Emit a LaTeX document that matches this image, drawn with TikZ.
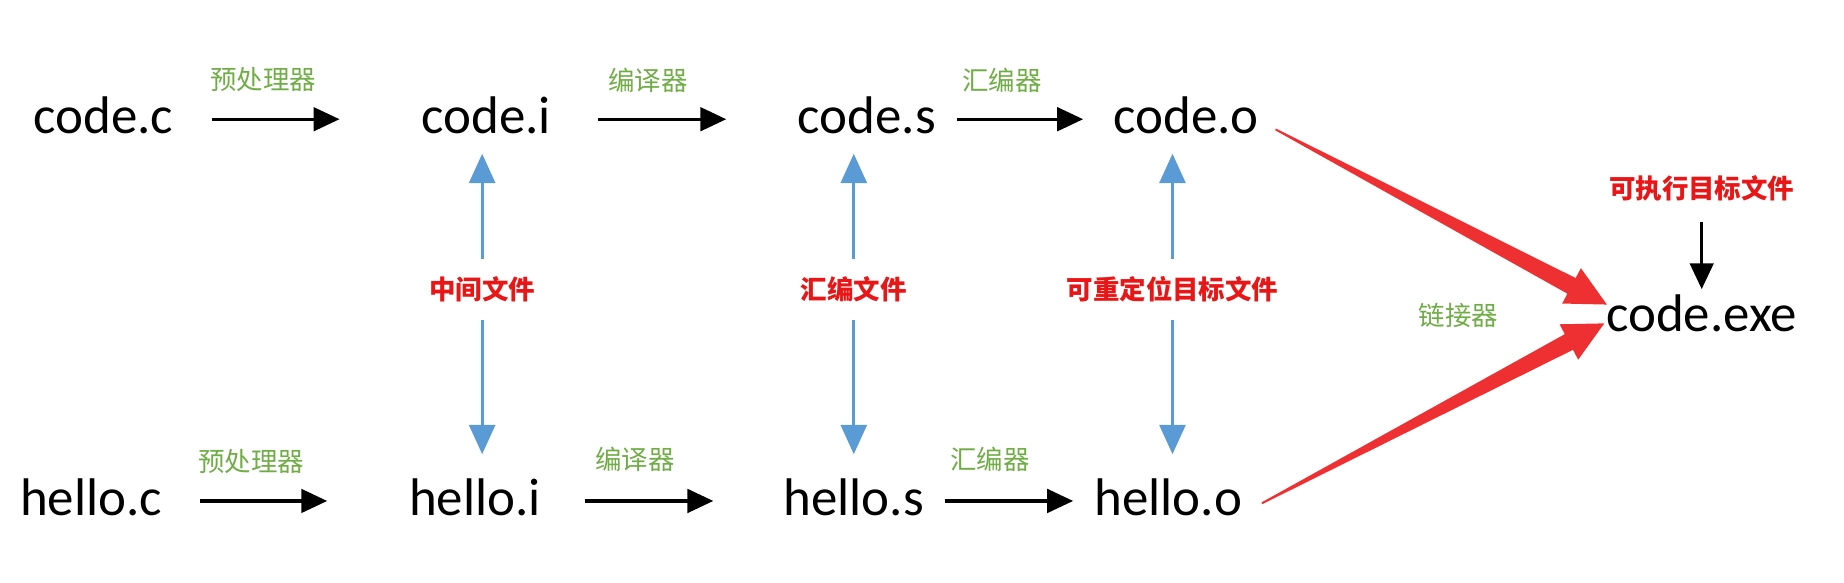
\documentclass[tikz,border=0pt]{standalone}
\usepackage{fontspec}
\setmainfont{Carlito}
\newfontfamily\cjk{Noto Sans CJK SC}
\usetikzlibrary{arrows.meta,calc}
\definecolor{lgreen}{RGB}{112,173,71}
\definecolor{lred}{RGB}{232,22,22}
\definecolor{lblue}{RGB}{91,155,213}
\definecolor{arrred}{RGB}{238,48,50}
\newcommand\taperarrow[3]{%
  \coordinate (#3) at ($(#2)!0.34cm!(#1)$);
  \fill[arrred] ($(#1)!0.008cm!90:(#2)$) -- ($(#3)!0.075cm!90:(#2)$) -- ($(#3)!0.17cm!90:(#2)$) -- (#2)
    -- ($(#3)!0.17cm!-90:(#2)$) -- ($(#3)!0.075cm!-90:(#2)$) -- ($(#1)!0.008cm!-90:(#2)$) -- cycle;}
\tikzset{
  fnode/.style={anchor=base, inner sep=0pt, text height=0.24cm, text depth=0pt, font=\fontsize{12.8pt}{14pt}\selectfont},
  glab/.style={inner sep=0pt, text=lgreen, font=\cjk\fontsize{6.4pt}{7pt}\selectfont},
  rlab/.style={inner sep=0pt, text=lred, font=\cjk\bfseries\fontsize{6.4pt}{7pt}\selectfont},
  blk/.style={draw=black, line width=0.027cm, -{Triangle[length=0.22cm,width=0.2cm]}},
  blu/.style={draw=lblue, line width=0.028cm, -{Triangle[length=0.25cm,width=0.22cm]}},
}
\begin{document}
\begin{tikzpicture}[x=0.01cm,y=-0.01cm]
\useasboundingbox (0,0) rectangle (1568,495);
% file nodes
\node[fnode] (codec) at (88,113.4) {code.c};
\node[fnode] (codei) at (413.5,113.4) {code.i};
\node[fnode] (codes) at (737,113.4) {code.s};
\node[fnode] (codeo) at (1008.5,113.4) {code.o};
\node[fnode] (helloc) at (77.5,438) {hello.c};
\node[fnode] (helloi) at (404,438) {hello.i};
\node[fnode] (hellos) at (726,438) {hello.s};
\node[fnode] (helloo) at (993.5,438) {hello.o};
\node[fnode] (exe) at (1447,282) {code.exe};
% green tool labels
\node[glab] (p1) at (224,68) {预处理器};
\node[glab] (c1) at (551,68) {编译器};
\node[glab] (a1) at (852,68) {汇编器};
\node[glab] (p2) at (213.5,392) {预处理器};
\node[glab] (c2) at (540,391) {编译器};
\node[glab] (a2) at (842,391) {汇编器};
\node[glab] (lk) at (1240,268) {链接器};
% red file-kind labels
\node[rlab, minimum height=0.5cm] (m1) at (410,246) {中间文件};
\node[rlab, minimum height=0.5cm] (m2) at (726,246) {汇编文件};
\node[rlab, minimum height=0.5cm] (m3) at (997,246) {可重定位目标文件};
\node[rlab] (ex) at (1447,160) {可执行目标文件};
% black process arrows
\draw[blk, shorten <=0.32cm, shorten >=0.69cm] (codec.east) -- (codei.west);
\draw[blk, shorten <=0.395cm, shorten >=0.60cm] (codei.east) -- (codes.west);
\draw[blk, shorten <=0.17cm, shorten >=0.25cm] (codes.east) -- (codeo.west);
\draw[blk, shorten <=0.317cm, shorten >=0.69cm] (helloc.east) -- (helloi.west);
\draw[blk, shorten <=0.37cm, shorten >=0.59cm] (helloi.east) -- (hellos.west);
\draw[blk, shorten <=0.17cm, shorten >=0.175cm] (hellos.east) -- (helloo.west);
\draw[blk, shorten <=0.17cm, shorten >=0.114cm] (ex.south) -- (ex.south |- exe.north);
% blue double arrows
\draw[blu, shorten >=0.166cm] (m1.north) -- (m1.north |- codei.south);
\draw[blu, shorten >=0.27cm] (m1.south) -- (m1.south |- helloi.north);
\draw[blu, shorten >=0.166cm] (m2.north) -- (m2.north |- codes.south);
\draw[blu, shorten >=0.27cm] (m2.south) -- (m2.south |- hellos.north);
\draw[blu, shorten >=0.166cm] (m3.north) -- (m3.north |- codeo.south);
\draw[blu, shorten >=0.27cm] (m3.south) -- (m3.south |- helloo.north);
% red linker arrows
\coordinate (r1s) at ($(codeo.east)+(13.6,8.6)$);
\coordinate (r1e) at ($(exe.west)+(1.2,-11)$);
\coordinate (r2s) at ($(helloo.east)+(16,2)$);
\coordinate (r2e) at ($(exe.west)+(-1,5)$);
\taperarrow{r1s}{r1e}{r1h}
\taperarrow{r2s}{r2e}{r2h}
\end{tikzpicture}
\end{document}
